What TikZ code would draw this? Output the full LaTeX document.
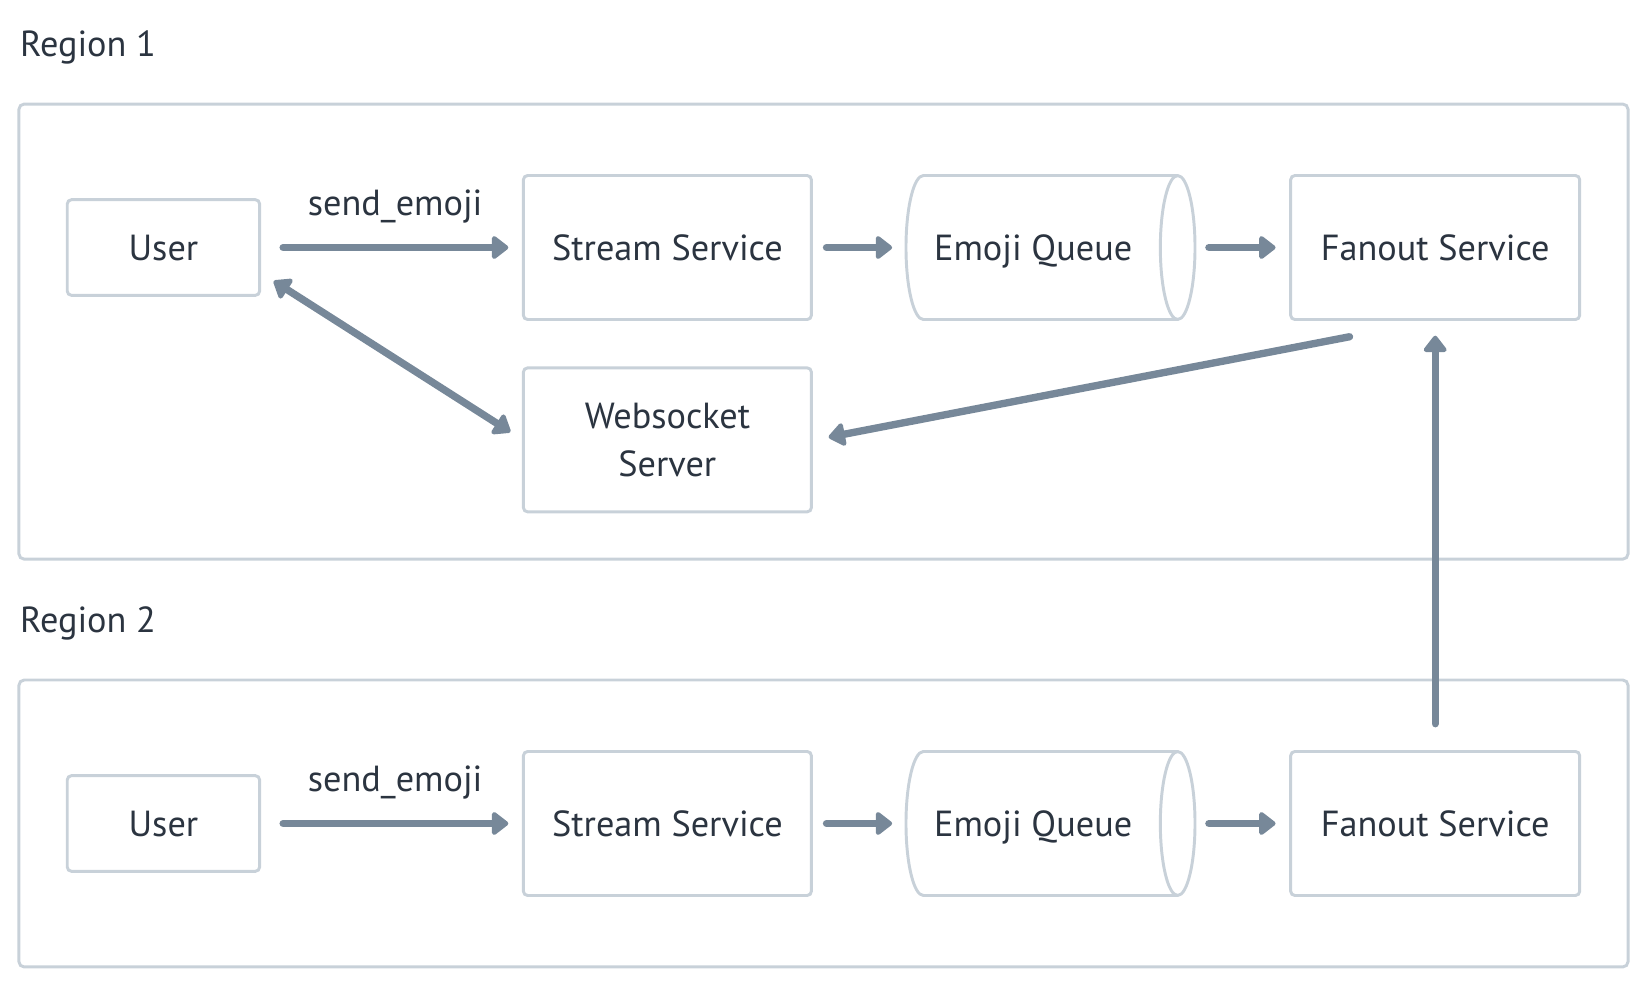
\documentclass[tikz,border=0pt]{standalone}
\usepackage{fontspec}
\setmainfont{PT Sans}
\usetikzlibrary{arrows.meta,calc}
\definecolor{bordc}{HTML}{C8D1D9}
\definecolor{arrc}{HTML}{778899}
\definecolor{txtc}{HTML}{2B3440}
\tikzset{
  bigtip/.tip={Triangle[length=17pt,width=25pt,round]},
}
\begin{document}
\begin{tikzpicture}[x=1pt,y=-1pt,
  every node/.style={font=\fontsize{34.5}{45}\selectfont, text=txtc},
  svc/.style={draw=bordc, line width=2.8pt, rounded corners=4pt, fill=white, inner sep=0pt, text depth=0pt, align=center},
  qnode/.style={draw=none, inner sep=0pt, text depth=0pt, minimum width=242pt, minimum height=137pt},
  cyl/.style={draw=bordc, line width=2.8pt, fill=white, line join=round},
  region/.style={draw=bordc, line width=2.8pt, rounded corners=5pt},
  arr/.style={draw=arrc, line width=7pt, line cap=round, -bigtip, shorten <=13pt, shorten >=13pt},
  lbl/.style={anchor=base},
]
\useasboundingbox (0,0) rectangle (1568,940);

% regions
\draw[region] (18,99) rectangle (1549,532);
\draw[region] (18,647) rectangle (1549,920);
\node[anchor=base west, inner xsep=0pt] (r1) at (19,54) {Region 1};
\node[anchor=base west, inner xsep=0pt] (r2) at (19,602) {Region 2};

% cylinders
\draw[cyl] (878.5,167) -- (1120.5,167) arc[start angle=-90,end angle=90,x radius=16.5,y radius=68.5] -- (878.5,304) arc[start angle=90,end angle=270,x radius=16.5,y radius=68.5] -- cycle;
\draw[cyl, fill=none] (1120.5,167) arc[start angle=-90,end angle=-270,x radius=16.5,y radius=68.5];
\draw[cyl] (878.5,715) -- (1120.5,715) arc[start angle=-90,end angle=90,x radius=16.5,y radius=68.5] -- (878.5,852) arc[start angle=90,end angle=270,x radius=16.5,y radius=68.5] -- cycle;
\draw[cyl, fill=none] (1120.5,715) arc[start angle=-90,end angle=-270,x radius=16.5,y radius=68.5];

% region 1 nodes
\node[svc, minimum width=183pt, minimum height=91pt] (u1) at (155.5,235.5) {User};
\node[svc, minimum width=274pt, minimum height=137pt] (s1) at (635,235.5) {Stream Service};
\node[qnode] (q1) at (983,235.5) {Emoji Queue};
\node[svc, minimum width=275pt, minimum height=137pt] (f1) at (1365.5,235.5) {Fanout Service};
\node[svc, minimum width=274pt, minimum height=137pt] (ws) at (635,418.5) {Websocket\\Server};

% region 2 nodes
\node[svc, minimum width=183pt, minimum height=91pt] (u2) at (155.5,783.5) {User};
\node[svc, minimum width=274pt, minimum height=137pt] (s2) at (635,783.5) {Stream Service};
\node[qnode] (q2) at (983,783.5) {Emoji Queue};
\node[svc, minimum width=275pt, minimum height=137pt] (f2) at (1365.5,783.5) {Fanout Service};

% labels
\node[lbl] (l1) at (376,205) {send\_emoji};
\node[lbl] (l2) at (376,753) {send\_emoji};

% arrows region 1
\draw[arr, shorten <=21pt] (u1) -- (s1);
\draw[arr] (s1) -- (q1);
\draw[arr, shorten <=46pt] (q1) -- (f1);
\draw[arr, bigtip-bigtip, shorten <=0pt, shorten >=0pt] ($(u1.south east)+(12,-15)$) -- ($(ws.west)+(-11,-7.5)$);
\draw[arr, shorten <=0pt, shorten >=0pt] ($(f1.south)+(-81.5,15)$) -- ($(ws.east)+(15,-2.5)$);

% arrows region 2
\draw[arr, shorten <=21pt] (u2) -- (s2);
\draw[arr] (s2) -- (q2);
\draw[arr, shorten <=46pt] (q2) -- (f2);
\draw[arr, shorten <=25pt, shorten >=14pt] (f2) -- (f1);
\end{tikzpicture}
\end{document}
